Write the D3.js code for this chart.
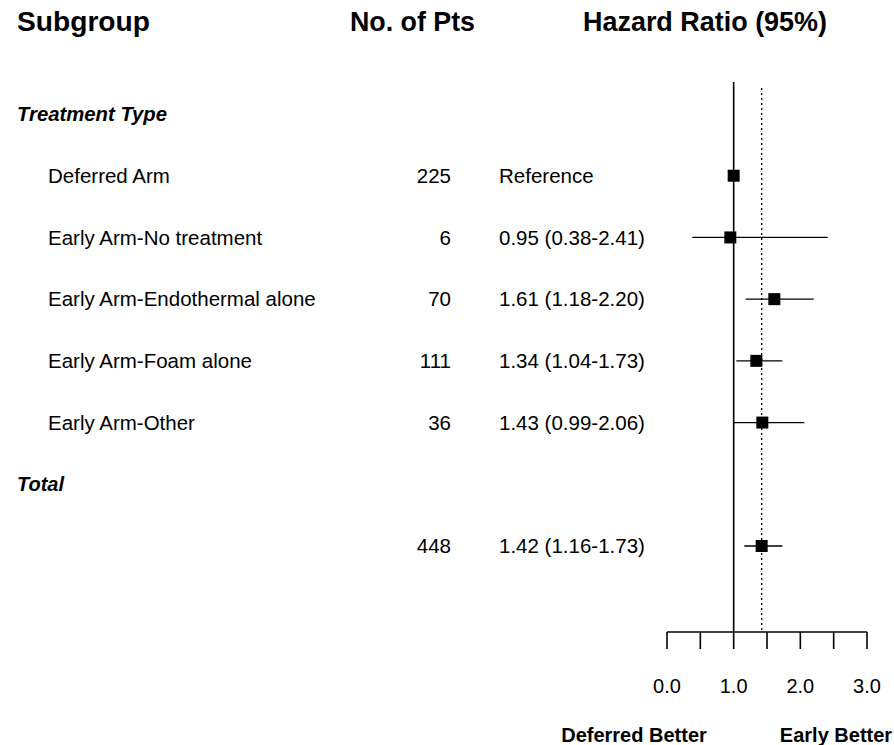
<!DOCTYPE html>
<meta charset="utf-8">
<style>
  body { margin: 0; background: #fff; }
  text { font-family: "Liberation Sans", Arial, sans-serif; fill: #000; }
  .head { font-weight: bold; font-size: 28px; }
  .group { font-weight: bold; font-style: italic; font-size: 20px; }
  .row { font-size: 20.5px; }
  .tick { font-size: 20px; text-anchor: middle; }
  .foot { font-size: 20px; font-weight: bold; text-anchor: middle; }
</style>
<svg width="894" height="745"></svg>
<script src="https://d3js.org/d3.v7.min.js"></script>
<script>
// table rows, top to bottom
var labels = ["Treatment Type", "Deferred Arm", "Early Arm-No treatment", "Early Arm-Endothermal alone",
              "Early Arm-Foam alone", "Early Arm-Other", "Total", ""];
var isGroup = [true, false, false, false, false, false, true, false];
var nPts = [null, 225, 6, 70, 111, 36, null, 448];
var hrText = [null, "Reference", "0.95 (0.38-2.41)", "1.61 (1.18-2.20)", "1.34 (1.04-1.73)",
              "1.43 (0.99-2.06)", null, "1.42 (1.16-1.73)"];
var hr = [null, 1.0, 0.95, 1.61, 1.34, 1.43, null, 1.42];
var lo = [null, 1.0, 0.38, 1.18, 1.04, 0.99, null, 1.16];
var hi = [null, 1.0, 2.41, 2.20, 1.73, 2.06, null, 1.73];
var overall = 1.42;
var ticks = [0, 0.5, 1, 1.5, 2, 2.5, 3];
var tickLabels = ["0.0", "", "1.0", "", "2.0", "", "3.0"];

var svg = d3.select("svg");

var x = d3.scaleLinear().domain([0, 3]).range([667, 867]);
var y = d3.scalePoint().domain(d3.range(labels.length)).range([114, 546]);
var axisY = 632;

// headers (condensed bold, squeezed to the widths of the original)
function head(txt, x0, w) {
  svg.append("text").attr("class", "head").attr("x", x0).attr("y", 31)
    .attr("textLength", w).attr("lengthAdjust", "spacingAndGlyphs").text(txt);
}
head("Subgroup", 17, 133);
head("No. of Pts", 350, 125);
head("Hazard Ratio (95%)", 583, 244);

// reference lines
svg.append("line").attr("x1", x(1)).attr("x2", x(1)).attr("y1", 82).attr("y2", axisY)
  .attr("stroke", "#000").attr("stroke-width", 1.6);
svg.append("line").attr("x1", x(overall)).attr("x2", x(overall)).attr("y1", 88).attr("y2", axisY)
  .attr("stroke", "#000").attr("stroke-width", 1.3).attr("stroke-dasharray", "2,3");

var rows = svg.selectAll(".r").data(labels).enter().append("g")
  .attr("transform", function(d, i) { return "translate(0," + y(i) + ")"; });

rows.each(function(d, i) {
  var g = d3.select(this);
  if (isGroup[i]) {
    g.append("text").attr("class", "group").attr("x", 17).attr("dy", "0.35em")
      .attr("textLength", d === "Total" ? 47 : 150).attr("lengthAdjust", "spacingAndGlyphs")
      .text(d);
  } else if (d) {
    g.append("text").attr("class", "row").attr("x", 48).attr("dy", "0.35em").text(d);
  }
  if (nPts[i] != null) {
    g.append("text").attr("class", "row").attr("x", 451).attr("dy", "0.35em")
      .attr("text-anchor", "end").text(nPts[i]);
  }
  if (hrText[i] != null) {
    g.append("text").attr("class", "row").attr("x", 499).attr("dy", "0.35em").text(hrText[i]);
  }
  if (hr[i] != null) {
    if (hi[i] > lo[i]) {
      g.append("line").attr("x1", x(lo[i])).attr("x2", x(hi[i])).attr("y1", 0).attr("y2", 0)
        .attr("stroke", "#000").attr("stroke-width", 1.3);
    }
    g.append("rect").attr("x", x(hr[i]) - 6).attr("y", -6).attr("width", 12).attr("height", 12)
      .attr("fill", "#000");
  }
});

// axis
svg.append("line").attr("x1", x(0)).attr("x2", x(3)).attr("y1", axisY).attr("y2", axisY)
  .attr("stroke", "#000").attr("stroke-width", 1.6);
svg.selectAll(".tk").data(ticks).enter().append("line")
  .attr("x1", function(d) { return x(d); }).attr("x2", function(d) { return x(d); })
  .attr("y1", axisY).attr("y2", axisY + 17)
  .attr("stroke", "#000").attr("stroke-width", 1.6);
svg.selectAll(".tl").data(ticks).enter().append("text")
  .attr("class", "tick")
  .attr("x", function(d) { return x(d); }).attr("y", 693)
  .text(function(d, i) { return tickLabels[i]; });

svg.append("text").attr("class", "foot").attr("x", 634).attr("y", 742).text("Deferred Better");
svg.append("text").attr("class", "foot").attr("x", 836).attr("y", 742).text("Early Better");
</script>
